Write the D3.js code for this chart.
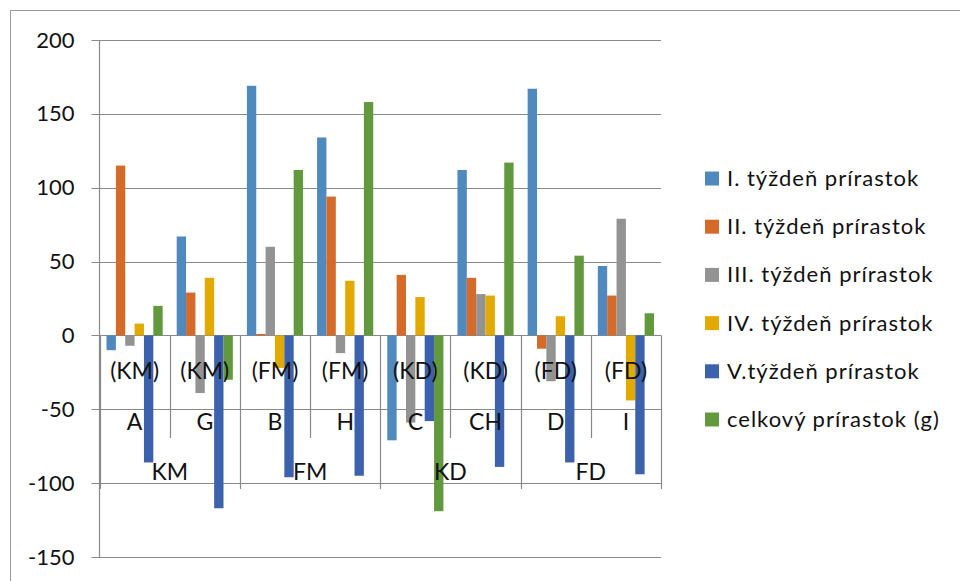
<!DOCTYPE html>
<html>
<head>
<meta charset="utf-8">
<script src="https://cdn.jsdelivr.net/npm/d3@7"></script>
<style>
  html, body { margin: 0; padding: 0; background: #fff; }
  svg { display: block; }
  text { font-family: Lato, "Open Sans", sans-serif; fill: #111; }
</style>
</head>
<body>
<svg id="chart" width="960" height="581"></svg>
<script>
// ---- data ----
const categories = ["A", "G", "B", "H", "C", "CH", "D", "I"];
const codes = ["(KM)", "(KM)", "(FM)", "(FM)", "(KD)", "(KD)", "(FD)", "(FD)"];
const groups = ["KM", "FM", "KD", "FD"];
const seriesNames = [
  "I. týždeň prírastok",
  "II. týždeň prírastok",
  "III. týždeň prírastok",
  "IV. týždeň prírastok",
  "V.týždeň prírastok",
  "celkový prírastok (g)"
];
const week1 = [-10, 67, 169, 134, -71, 112, 167, 47];
const week2 = [115, 29, 1, 94, 41, 39, -9, 27];
const week3 = [-7, -39, 60, -12, -59, 28, -31, 79];
const week4 = [8, 39, -22, 37, 26, 27, 13, -44];
const week5 = [-86, -117, -96, -95, -58, -89, -86, -94];
const total = [20, -30, 112, 158, -119, 117, 54, 15];
const yTicks = [-150, -100, -50, 0, 50, 100, 150, 200];
const colors = ["#4f89bd", "#d46b2b", "#939393", "#e2aa00", "#3d62ad", "#62993e"];

const seriesValues = [week1, week2, week3, week4, week5, total];

// ---- layout ----
const svg = d3.select("#chart");
const plot = { left: 99.5, right: 661, top: 40, bottom: 557 };
const gridColor = "#898989";

// outer frame (top + left visible)
svg.append("path")
  .attr("d", "M10.5,581 L10.5,10.5 L960,10.5")
  .attr("fill", "none").attr("stroke", "#9a9a9a").attr("stroke-width", 1);

const y = d3.scaleLinear().domain([-150, 200]).range([plot.bottom, plot.top]);
const x0 = d3.scaleBand().domain(categories).range([plot.left, plot.right]).padding(0);
const bw = x0.bandwidth();
const x1 = d3.scaleBand().domain(seriesNames).range([0.1 * bw, 0.9 * bw]).padding(0);

// gridlines
svg.append("g").selectAll("line").data(yTicks).join("line")
  .attr("x1", plot.left - 8).attr("x2", plot.right)
  .attr("y1", d => Math.round(y(d)) + 0.5).attr("y2", d => Math.round(y(d)) + 0.5)
  .attr("stroke", gridColor).attr("stroke-width", 1.2);

// y axis (labels)
const yAxis = svg.append("g")
  .attr("transform", `translate(${plot.left},0)`)
  .call(d3.axisLeft(y).tickValues(yTicks).tickSize(8).tickPadding(17).tickFormat(d => String(d)));
yAxis.select(".domain").remove();
yAxis.selectAll(".tick line").remove();
yAxis.selectAll("text").style("font-size", "22px").style("font-family", "Lato, sans-serif").attr("fill", "#111");

// y axis line
svg.append("line")
  .attr("x1", plot.left).attr("x2", plot.left)
  .attr("y1", y(200)).attr("y2", y(-150))
  .attr("stroke", gridColor).attr("stroke-width", 1.2);

// category separators
const zeroY = y(0);
const bounds = categories.map(c => x0(c)).concat([plot.right]);
svg.append("g").selectAll("line").data(bounds).join("line")
  .attr("x1", d => Math.round(d) + 0.5).attr("x2", d => Math.round(d) + 0.5)
  .attr("y1", zeroY)
  .attr("y2", (d, i) => (i % 2 === 0 ? 489 : 438))
  .attr("stroke", gridColor).attr("stroke-width", 1.2);

// bars
const barG = svg.append("g");
seriesNames.forEach((name, si) => {
  barG.append("g").selectAll("rect").data(seriesValues[si]).join("rect")
    .attr("x", (d, i) => x0(categories[i]) + x1(name))
    .attr("width", x1.bandwidth())
    .attr("y", d => Math.min(y(d), y(0)))
    .attr("height", d => Math.abs(y(d) - y(0)))
    .attr("fill", colors[si]);
});

// category labels (3 levels)
const labG = svg.append("g").attr("text-anchor", "middle").style("font-size", "23px");
labG.selectAll("text.code").data(codes).join("text").attr("class", "code")
  .attr("x", (d, i) => x0(categories[i]) + bw / 2).attr("y", 379).text(d => d);
labG.selectAll("text.cat").data(categories).join("text").attr("class", "cat")
  .attr("x", d => x0(d) + bw / 2).attr("y", 430).text(d => d);
labG.selectAll("text.grp").data(groups).join("text").attr("class", "grp")
  .attr("x", (d, i) => x0(categories[i * 2]) + bw).attr("y", 480).text(d => d);

// legend
const leg = svg.append("g").attr("transform", "translate(705,0)");
seriesNames.forEach((name, i) => {
  const cy = 178.5 + i * 48.2;
  leg.append("rect").attr("x", 0).attr("y", cy - 7).attr("width", 14).attr("height", 14).attr("fill", colors[i]);
  leg.append("text").attr("x", 22).attr("y", cy + 7.5)
    .style("font-size", "22px").style("letter-spacing", "1px").text(name);
});
</script>
</body>
</html>
